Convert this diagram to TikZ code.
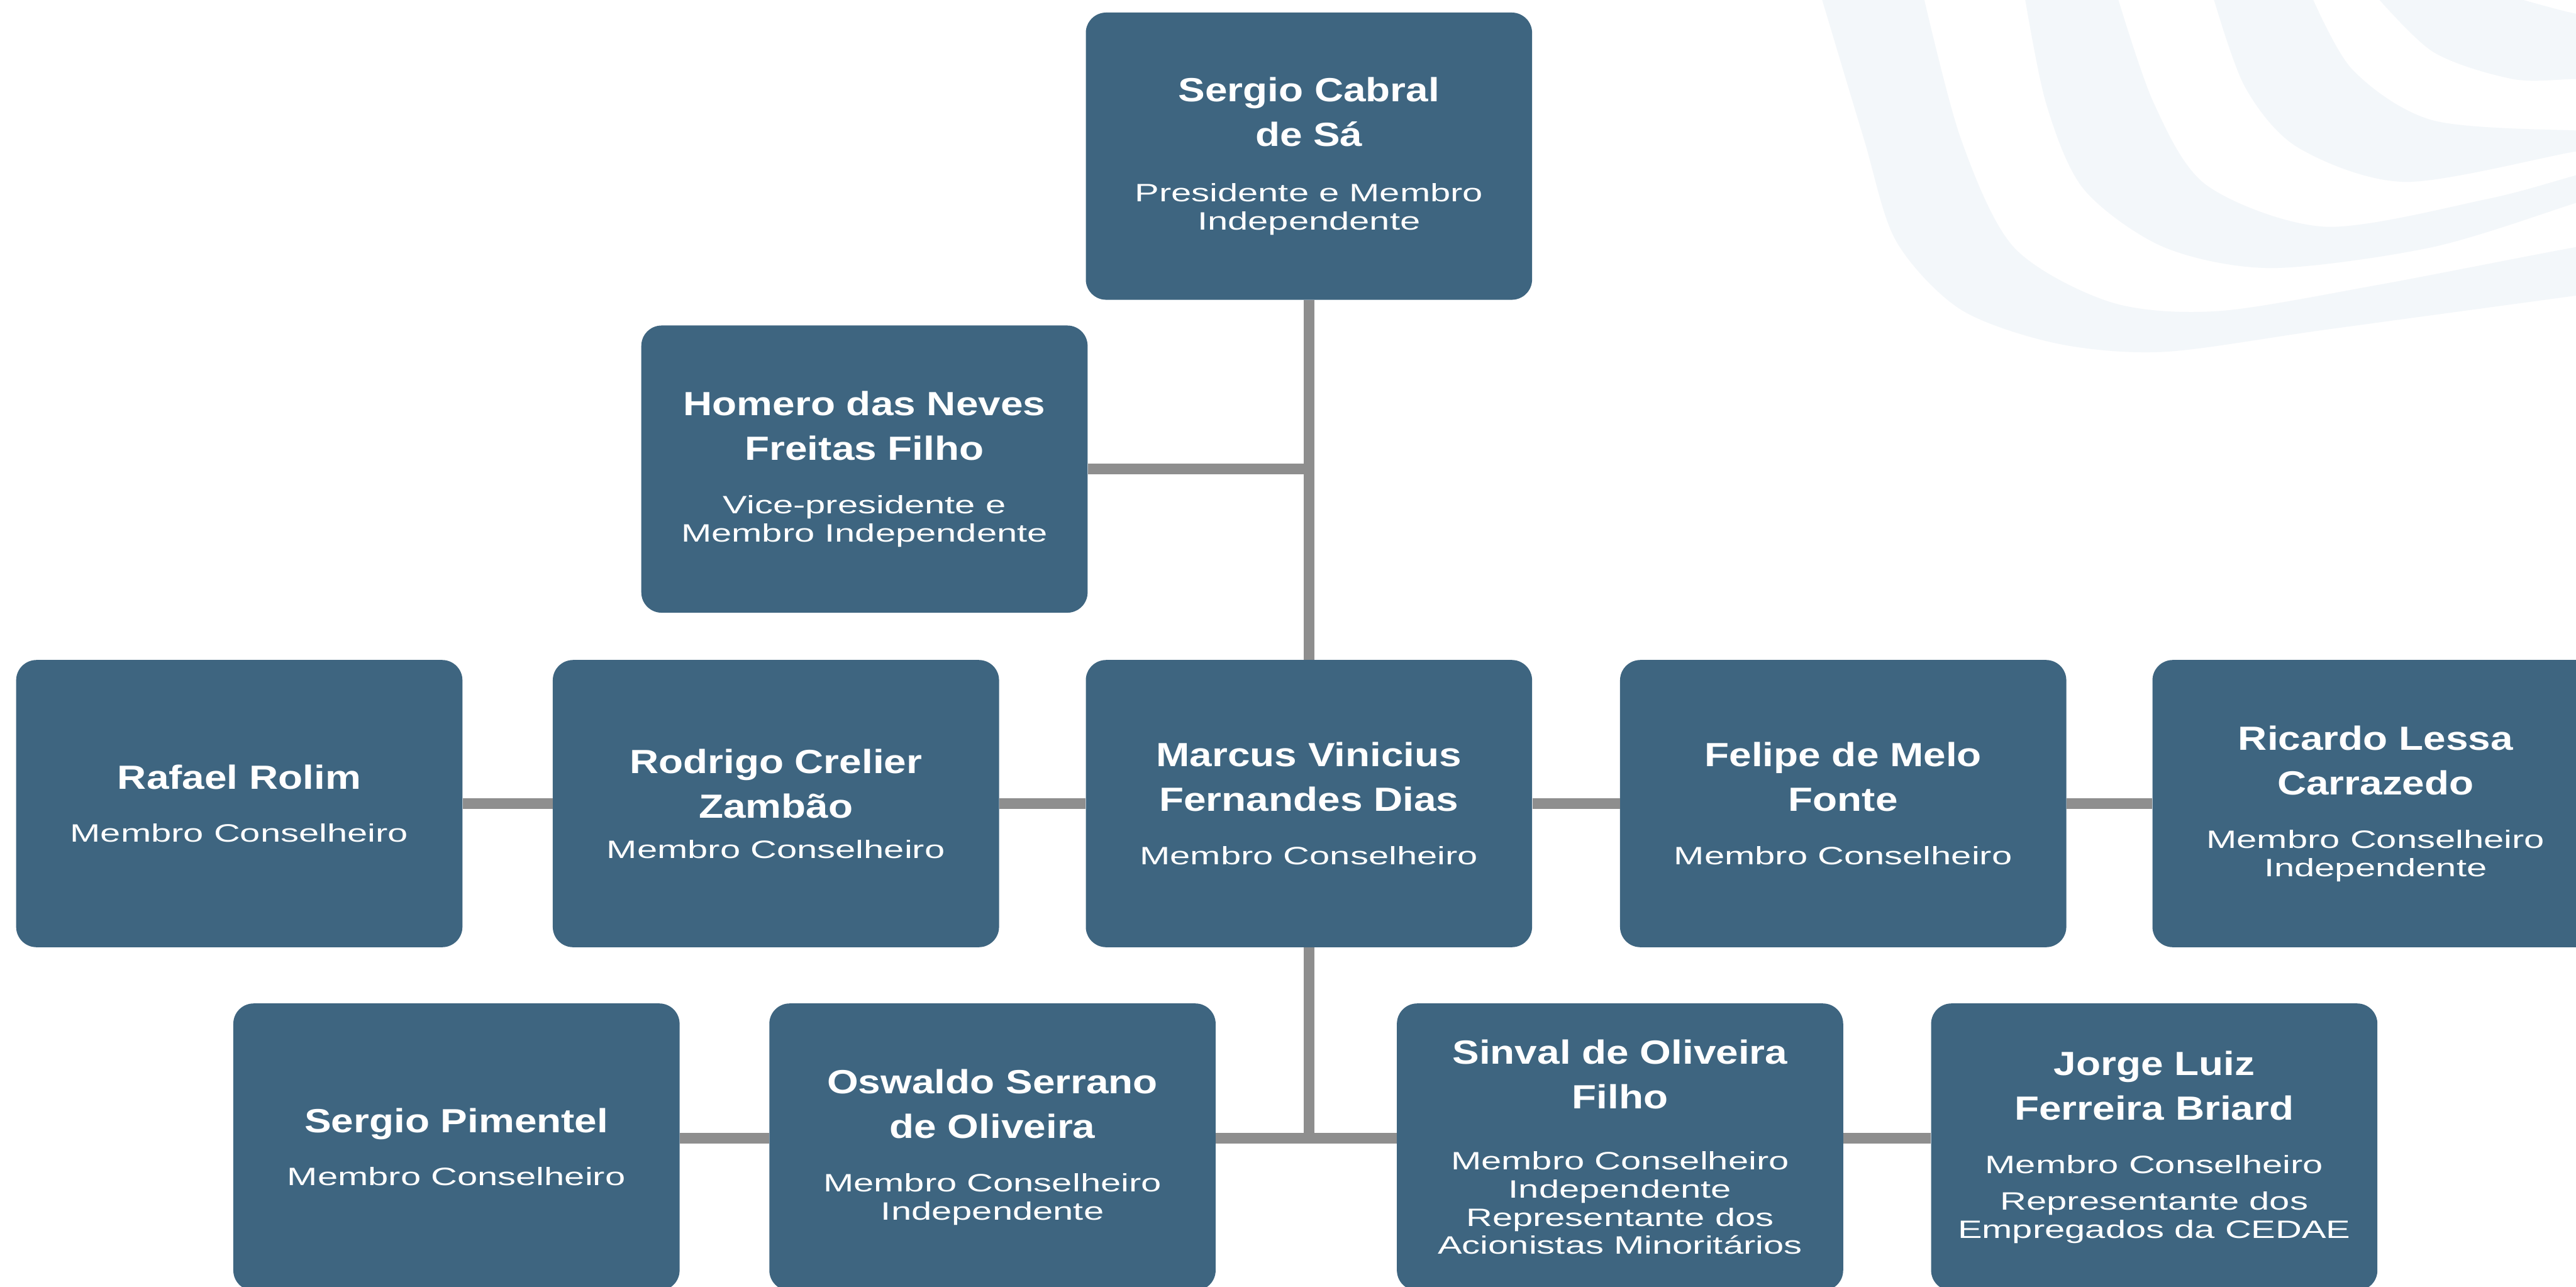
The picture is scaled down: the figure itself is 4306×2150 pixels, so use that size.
\documentclass[tikz,border=0pt]{standalone}
\usepackage{fontspec}
\setmainfont{Liberation Sans}
\newfontfamily\namefam[FakeStretch=1.2]{Liberation Sans}
\newfontfamily\subfam[FakeStretch=1.45]{Liberation Sans}
\definecolor{boxblue}{HTML}{3E6580}
\definecolor{linegray}{HTML}{8E8E8E}
\definecolor{swirlc}{HTML}{F3F7FA}
\newcommand\namef{\namefam\bfseries\fontsize{28pt}{37.5pt}\selectfont\color{white}}
\newcommand\subf{\subfam\fontsize{21pt}{23.5pt}\selectfont\color{white}}
\newcommand\cardtext[3][21pt]{\parbox{360pt}{\centering{\namef #2\par}\vspace{#1}{\subf #3\par}}}
\tikzset{
  member/.style={fill=boxblue, rounded corners=17pt, minimum width=373pt, minimum height=240pt, inner sep=0pt},
  conn/.style={draw=linegray, line width=9pt},
  swirl/.style={fill=swirlc}
}
\begin{document}
\begin{tikzpicture}[x=0.5pt,y=-0.5pt]
\useasboundingbox (0,0) rectangle (4306,2150);
\clip (0,0) rectangle (4306,2150);
\fill[white] (0,0) rectangle (4306,2150);
% background swirl
\fill[swirl] plot[smooth] coordinates {(3040,-20) (3115,230) (3169,402) (3277,517) (3438,574) (3617,588) (3887,551) (4306,494) (4420,478)}
  -- plot[smooth] coordinates {(4420,398) (4306,413) (3976,476) (3707,520) (3528,505) (3366,413) (3277,230) (3212,-20)} -- cycle;
\fill[swirl] plot[smooth] coordinates {(3382,-20) (3420,172) (3483,316) (3617,413) (3797,448) (4066,413) (4306,339) (4420,300)}
  -- plot[smooth] coordinates {(4420,262) (4306,293) (4156,333) (3887,379) (3689,310) (3600,172) (3535,-20)} -- cycle;
\fill[swirl] plot[smooth] coordinates {(3695,-20) (3752,144) (3842,247) (4021,304) (4306,253) (4420,238)}
  -- plot[smooth] coordinates {(4420,214) (4306,218) (4066,201) (3931,115) (3858,-20)} -- cycle;
\fill[swirl] plot[smooth] coordinates {(3960,-20) (4066,86) (4200,132) (4306,132) (4420,130)}
  -- plot[smooth] coordinates {(4420,32) (4306,23) (4150,-20)} -- cycle;

% nodes
\node[member] (top) at (2188,261) {\cardtext[23pt]{Sergio Cabral\\de Sá}{Presidente e Membro\\Independente}};
\node[member] (homero) at (1445,784) {\cardtext{Homero das Neves\\Freitas Filho}{Vice-presidente e\\Membro Independente}};
\node[member] (rafael) at (400,1343) {\cardtext{Rafael Rolim}{Membro Conselheiro}};
\node[member] (rodrigo) at (1297,1343) {\cardtext[10pt]{Rodrigo Crelier\\Zambão}{Membro Conselheiro}};
\node[member] (marcus) at (2188,1343) {\cardtext{Marcus Vinicius\\Fernandes Dias}{Membro Conselheiro}};
\node[member] (felipe) at (3081,1343) {\cardtext{Felipe de Melo\\Fonte}{Membro Conselheiro}};
\node[member] (ricardo) at (3971,1343) {\cardtext{Ricardo Lessa\\Carrazedo}{Membro Conselheiro\\Independente}};
\node[member] (pimentel) at (763,1917) {\cardtext{Sergio Pimentel}{Membro Conselheiro}};
\node[member] (oswaldo) at (1659,1917) {\cardtext{Oswaldo Serrano\\de Oliveira}{Membro Conselheiro\\Independente}};
\node[member] (sinval) at (2708,1917) {\cardtext[27.5pt]{Sinval de Oliveira\\Filho}{Membro Conselheiro\\Independente\\Representante dos\\Acionistas Minoritários}};
\node[member] (jorge) at (3601,1917) {\cardtext{Jorge Luiz\\Ferreira Briard}{Membro Conselheiro\\[7pt]Representante dos\\Empregados da CEDAE}};
\coordinate (row3) at (0,1902);

% connectors
\draw[conn] (top.south) -- (marcus.north);
\draw[conn] (homero.east) -- (homero.east -| top.south);
\draw[conn] (rafael.east) -- (rodrigo.west);
\draw[conn] (rodrigo.east) -- (marcus.west);
\draw[conn] (marcus.east) -- (felipe.west);
\draw[conn] (felipe.east) -- (ricardo.west);
\draw[conn] (marcus.south) -- ([yshift=-4.5pt]marcus.south |- row3);
\draw[conn] (pimentel.east |- row3) -- (oswaldo.west |- row3);
\draw[conn] (oswaldo.east |- row3) -- (sinval.west |- row3);
\draw[conn] (sinval.east |- row3) -- (jorge.west |- row3);
\end{tikzpicture}
\end{document}
